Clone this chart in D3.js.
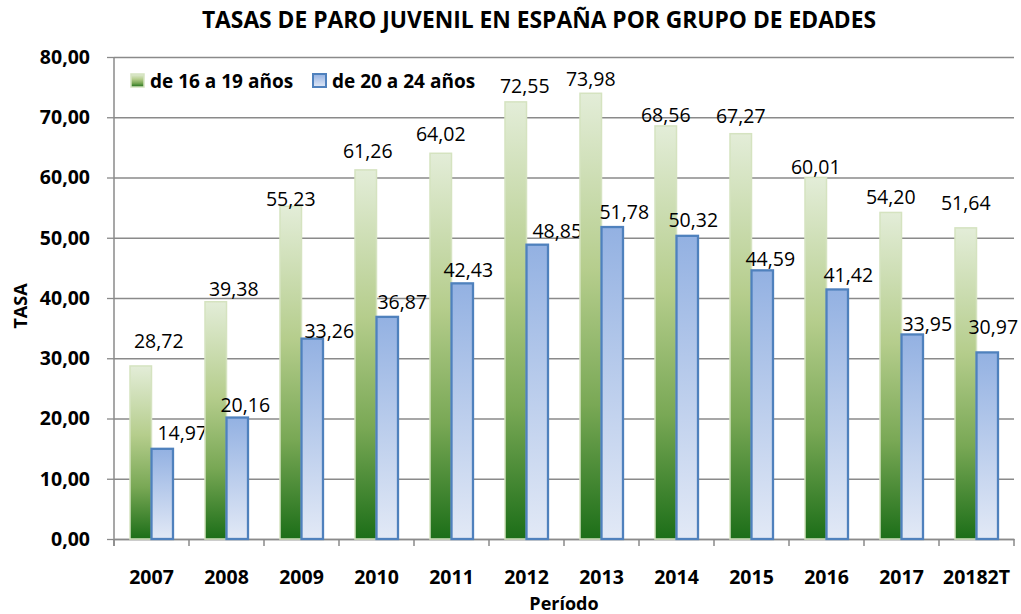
<!DOCTYPE html>
<html>
<head>
<meta charset="utf-8">
<script src="https://cdn.jsdelivr.net/npm/d3@7/dist/d3.min.js"></script>
<style>
  body{margin:0;background:#fff;}
  svg{display:block;font-family:"Open Sans",sans-serif;}
</style>
</head>
<body>
<svg id="chart" width="1021" height="614"></svg>
<script>
// data
var periods=['2007','2008','2009','2010','2011','2012','2013','2014','2015','2016','2017','20182T'];
var joven16_19=[28.72,39.38,55.23,61.26,64.02,72.55,73.98,68.56,67.27,60.01,54.20,51.64];
var joven20_24=[14.97,20.16,33.26,36.87,42.43,48.85,51.78,50.32,44.59,41.42,33.95,30.97];
var seriesNames=['de 16 a 19 años','de 20 a 24 años'];
var yTicks=[0,10,20,30,40,50,60,70,80];

// labels were hand-moved in the original, keep their nudges (dx, gap above bar)
var nudgeG={dx:[18,18,0,2,0,9,0,0,0,0,0,0],gap:[18,6,0,12,12,9,7,4,11,3,8,18]};
var nudgeB={dx:[20,8,17,15,6,20,12,6,8,11,15,6],gap:[9,6,1,8,6,7,8,9,4,7,3,18]};

var margin={top:57,left:114,right:7,bottom:75},
	width=1021-margin.left-margin.right,
	height=614-margin.top-margin.bottom;

var svg=d3.select('#chart');
var defs=svg.append('defs');

var gG=defs.append('linearGradient').attr('id','gGreen').attr('x1','0').attr('y1','0').attr('x2','0').attr('y2','1');
gG.append('stop').attr('offset','0%').attr('stop-color','#e3edd8');
gG.append('stop').attr('offset','40%').attr('stop-color','#b5cd8c');
gG.append('stop').attr('offset','70%').attr('stop-color','#79a855');
gG.append('stop').attr('offset','100%').attr('stop-color','#1c6e18');

var gB=defs.append('linearGradient').attr('id','gBlue').attr('x1','0').attr('y1','0').attr('x2','0').attr('y2','1');
gB.append('stop').attr('offset','0%').attr('stop-color','#93b1e2');
gB.append('stop').attr('offset','100%').attr('stop-color','#e2e9f6');

var x0=d3.scaleBand().domain(periods).range([0,width]).padding(0);
var x1=d3.scaleBand().domain(seriesNames).range([16,59]).padding(0);
var y=d3.scaleLinear().domain([0,80]).range([height,0]);

var g=svg.append('g').attr('transform','translate('+margin.left+','+margin.top+')');

// gridlines
g.append('g').attr('class','grid')
	.call(d3.axisLeft(y).tickValues(yTicks).tickSize(-width).tickFormat(''))
	.call(s=>s.select('.domain').remove())
	.call(s=>s.selectAll('line').attr('stroke','#8a8a8a').attr('stroke-width',1.3));

// y axis
g.append('g')
	.call(d3.axisLeft(y).tickValues(yTicks).tickSize(7).tickPadding(17)
		.tickFormat(d=>d3.format('.2f')(d).replace('.',',')))
	.call(s=>s.select('.domain').attr('stroke','#8a8a8a').attr('stroke-width',1.5).attr('d','M0,0V'+(height+7)))
	.call(s=>s.selectAll('line').attr('stroke','#8a8a8a').attr('stroke-width',1.3))
	.call(s=>s.selectAll('text').attr('fill','#000').style('font-size','19.5px').style('font-weight','bold')
		.style('font-family','"Open Sans",sans-serif'));

// x axis
var xAxis=g.append('g').attr('transform','translate(0,'+height+')')
	.call(d3.axisBottom(x0).tickSize(0).tickPadding(31))
	.call(s=>s.select('.domain').attr('stroke','#8a8a8a').attr('stroke-width',1.5))
	.call(s=>s.selectAll('text').attr('fill','#000').style('font-size','19.5px').style('font-weight','bold')
		.style('font-family','"Open Sans",sans-serif'));
xAxis.selectAll('.bnd').data(periods.concat(['end'])).enter().append('line')
	.attr('x1',(d,i)=>i*x0.step()).attr('x2',(d,i)=>i*x0.step())
	.attr('y1',0).attr('y2',7).attr('stroke','#8a8a8a').attr('stroke-width',1.5);

// bars
var cats=g.selectAll('.cat').data(periods).enter().append('g')
	.attr('transform',d=>'translate('+x0(d)+',0)');

cats.append('rect')
	.attr('x',x1(seriesNames[0])).attr('width',x1.bandwidth())
	.attr('y',(d,i)=>y(joven16_19[i])).attr('height',(d,i)=>height-y(joven16_19[i]))
	.attr('fill','url(#gGreen)').attr('stroke','#d5e3c0').attr('stroke-width',1.5);

cats.append('rect')
	.attr('x',x1(seriesNames[1])).attr('width',x1.bandwidth())
	.attr('y',(d,i)=>y(joven20_24[i])).attr('height',(d,i)=>height-y(joven20_24[i]))
	.attr('fill','url(#gBlue)').attr('stroke','#4f81bd').attr('stroke-width',2.3);

// value labels
var fmt=v=>d3.format('.2f')(v).replace('.',',');
cats.append('text')
	.attr('x',(d,i)=>x1(seriesNames[0])+x1.bandwidth()/2+nudgeG.dx[i])
	.attr('y',(d,i)=>y(joven16_19[i])-nudgeG.gap[i])
	.attr('text-anchor','middle').style('font-size','19.5px').attr('fill','#000')
	.text((d,i)=>fmt(joven16_19[i]));
cats.append('text')
	.attr('x',(d,i)=>x1(seriesNames[1])+x1.bandwidth()/2+nudgeB.dx[i])
	.attr('y',(d,i)=>y(joven20_24[i])-nudgeB.gap[i])
	.attr('text-anchor','middle').style('font-size','19.5px').attr('fill','#000')
	.text((d,i)=>fmt(joven20_24[i]));

// legend
var leg=svg.append('g').attr('transform','translate(131,74)');
var legItems=leg.selectAll('g').data(seriesNames).enter().append('g')
	.attr('transform',(d,i)=>'translate('+(i*182)+',0)');
legItems.append('rect').attr('width',13).attr('height',13)
	.attr('fill',(d,i)=>i?'url(#gBlue)':'url(#gGreen)')
	.attr('stroke',(d,i)=>i?'#4f81bd':'#d5e3c0').attr('stroke-width',(d,i)=>i?2:1.5);
legItems.append('text').attr('x',19).attr('y',13.5)
	.style('font-size','19px').style('font-weight','bold').text(d=>d);

// titles
svg.append('text').attr('x',539).attr('y',28).attr('text-anchor','middle')
	.style('font-size','22.8px').style('font-weight','bold')
	.text('TASAS DE PARO JUVENIL EN ESPAÑA POR GRUPO DE EDADES');
svg.append('text').attr('transform','translate(27,306) rotate(-90)').attr('text-anchor','middle')
	.style('font-size','18px').style('font-weight','bold').text('TASA');
svg.append('text').attr('x',margin.left+width/2).attr('y',610).attr('text-anchor','middle')
	.style('font-size','18px').style('font-weight','bold').text('Período');
</script>
</body>
</html>
